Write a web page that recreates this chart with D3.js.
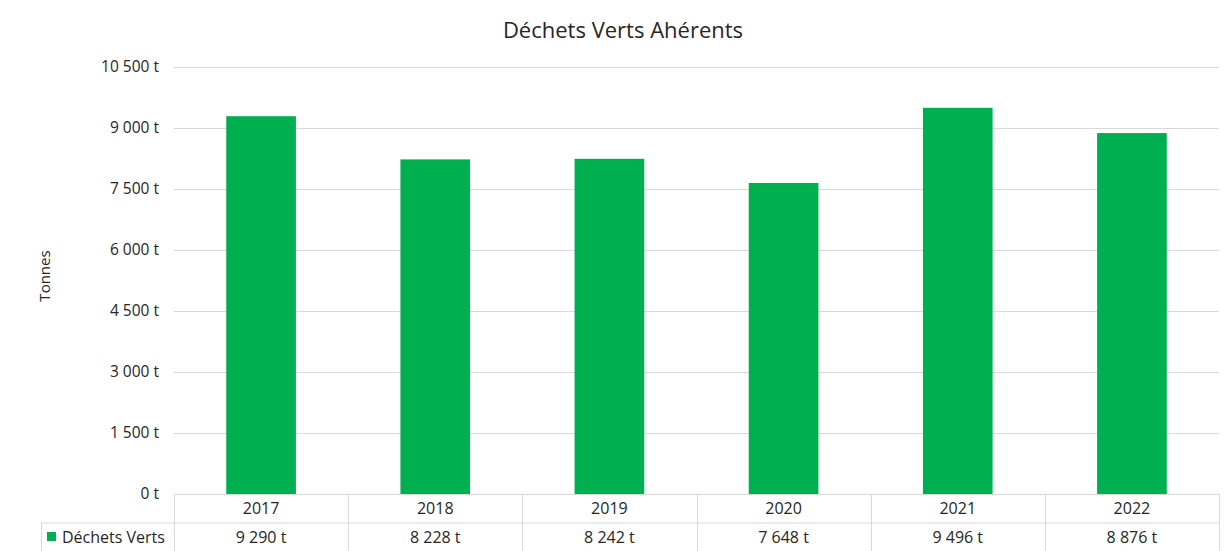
<!DOCTYPE html>
<html><head><meta charset="utf-8">
<script src="https://cdn.jsdelivr.net/npm/d3@7"></script>
<style>body{margin:0;background:#fff}text{font-family:"Open Sans",sans-serif;fill:#262626}</style>
</head><body><svg id="c" width="1224" height="551"></svg>
<script>
const years = ["2017","2018","2019","2020","2021","2022"];
const values = [9290, 8228, 8242, 7648, 9496, 8876];
const valueLabels = ["9 290 t","8 228 t","8 242 t","7 648 t","9 496 t","8 876 t"];
const yTicks = [0,1500,3000,4500,6000,7500,9000,10500];
const seriesName = "Déchets Verts";
const title = "Déchets Verts Ahérents";

const svg = d3.select("#c");
const L=174, R=1219, T=67, B=494;
const x = d3.scaleBand().domain(years).range([L,R]).paddingInner(0.6).paddingOuter(0.3);
const xc = d3.scaleBand().domain(years).range([L,R]);
const y = d3.scaleLinear().domain([0,10500]).range([B,T]);
const fmt = v => (v>=1000 ? d3.format(",")(v).replace(/,/g," ") : v) + " t";

svg.append("text").attr("x",623).attr("y",38).attr("text-anchor","middle").style("font-size","22px").text(title);

const g = svg.append("g");
g.selectAll(".grid").data(yTicks.filter(d=>d>0)).join("line")
 .attr("x1",L).attr("x2",R).attr("y1",d=>y(d)+0.5).attr("y2",d=>y(d)+0.5).attr("stroke","#d9d9d9");
g.selectAll(".yt").data(yTicks).join("text")
 .attr("x",159).attr("y",d=>y(d)+5).attr("text-anchor","end").style("font-size","15.5px").text(fmt);

svg.append("text").attr("transform","translate(50,276) rotate(-90)").attr("text-anchor","middle").style("font-size","15px").text("Tonnes");

g.selectAll(".bar").data(values).join("rect")
 .attr("x",(d,i)=>x(years[i])).attr("width",x.bandwidth())
 .attr("y",d=>y(d)).attr("height",d=>B-y(d)).attr("fill","#00B050");

// data table
const lc="#d9d9d9";
const rowH=28.5;
svg.append("line").attr("x1",L).attr("x2",R).attr("y1",B+0.5).attr("y2",B+0.5).attr("stroke",lc);
svg.append("line").attr("x1",41).attr("x2",R).attr("y1",B+rowH+0.5).attr("y2",B+rowH+0.5).attr("stroke",lc);
svg.append("line").attr("x1",41.5).attr("x2",41.5).attr("y1",B+rowH).attr("y2",551).attr("stroke",lc);
svg.selectAll(".vl").data(years.concat(["end"])).join("line")
 .attr("x1",(d,i)=>Math.round(L+i*xc.bandwidth())+0.5).attr("x2",(d,i)=>Math.round(L+i*xc.bandwidth())+0.5)
 .attr("y1",B).attr("y2",551).attr("stroke",lc);
svg.selectAll(".yr").data(years).join("text")
 .attr("x",d=>xc(d)+xc.bandwidth()/2).attr("y",B+20).attr("text-anchor","middle").style("font-size","16px").text(d=>d);
svg.selectAll(".vv").data(valueLabels).join("text")
 .attr("x",(d,i)=>xc(years[i])+xc.bandwidth()/2).attr("y",B+rowH+20).attr("text-anchor","middle").style("font-size","16px").text(d=>d);
svg.append("rect").attr("x",47).attr("y",532).attr("width",9).attr("height",9).attr("fill","#00B050");
svg.append("text").attr("x",62).attr("y",B+rowH+20).style("font-size","16px").text(seriesName);
</script></body></html>
